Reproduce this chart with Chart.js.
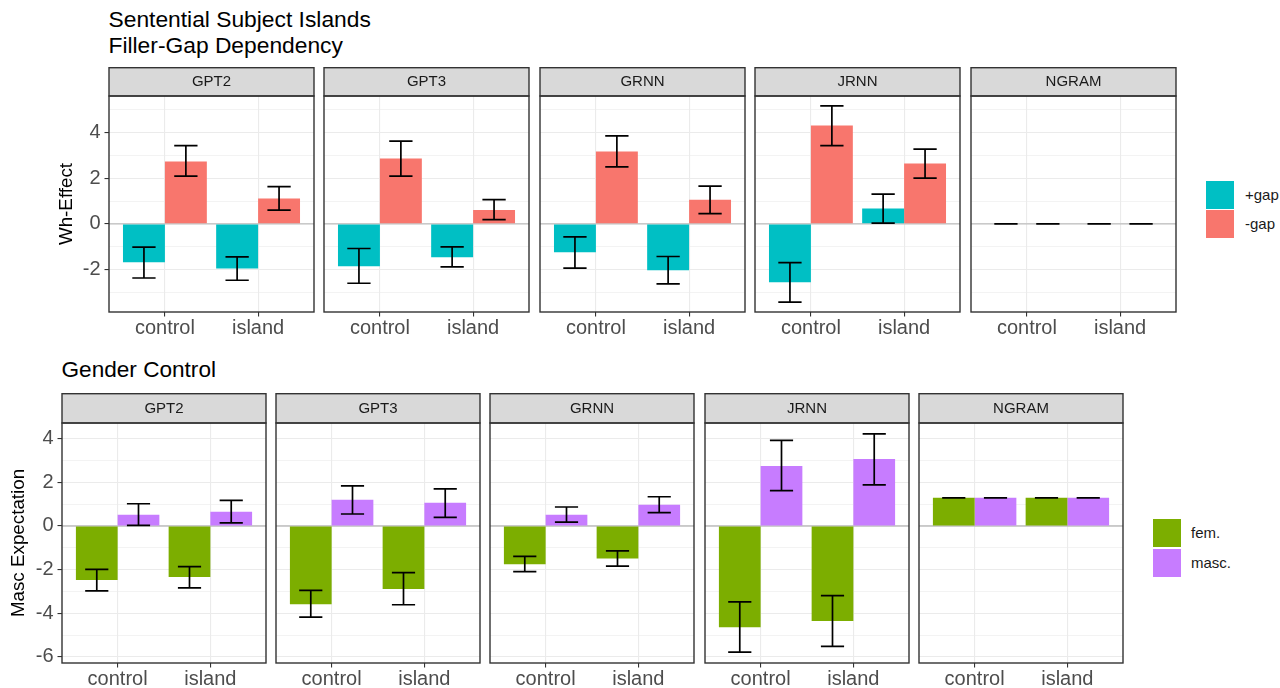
<!DOCTYPE html>
<html>
<head>
<meta charset="utf-8">
<script src="https://cdn.jsdelivr.net/npm/chart.js@4.4.1/dist/chart.umd.min.js"></script>
<style>
  html, body { margin: 0; padding: 0; background: #fff; }
  body { width: 1280px; height: 688px; position: relative; overflow: hidden;
         font-family: "Liberation Sans", Arial, Helvetica, sans-serif; }
  canvas { position: absolute; }
  .title { position: absolute; font-size: 22.8px; line-height: 26px; color: #000; white-space: nowrap; }
  .key { position: absolute; width: 28px; height: 28px; }
  .ktext { position: absolute; font-size: 15px; line-height: 28px; color: #1A1A1A; white-space: nowrap; }
</style>
</head>
<body>
<div class="title" style="left:108.5px; top:6.2px;">Sentential Subject Islands<br>Filler-Gap Dependency</div>
<div class="title" style="left:61.5px; top:356.6px; font-size:22.6px;">Gender Control</div>

<script>
// ---- data -------------------------------------------------------------
const models = ['GPT2', 'GPT3', 'GRNN', 'JRNN', 'NGRAM'];
const conditions = ['control', 'island'];

// Filler-gap dependency: Wh-effect per model, [control, island]
const gapSeries = ['+gap', '-gap'];
const whPlusGap    = [[-1.68, -1.96], [-1.86, -1.46], [-1.24, -2.03], [-2.56, 0.67], [0, 0]];
const whPlusGapLo  = [[-2.37, -2.47], [-2.60, -1.88], [-1.94, -2.63], [-3.43, 0.03], [0, 0]];
const whPlusGapHi  = [[-1.02, -1.45], [-1.08, -1.01], [-0.57, -1.43], [-1.70, 1.30], [0, 0]];
const whMinusGap   = [[2.73, 1.11], [2.86, 0.61], [3.17, 1.06], [4.31, 2.64], [0, 0]];
const whMinusGapLo = [[2.09, 0.60], [2.09, 0.19], [2.50, 0.45], [3.43, 2.00], [0, 0]];
const whMinusGapHi = [[3.43, 1.63], [3.62, 1.06], [3.85, 1.65], [5.17, 3.27], [0, 0]];
const whTickLabels = [-2, 0, 2, 4];

// Gender control: masculine expectation per model, [control, island]
const genderSeries = ['fem.', 'masc.'];
const mascFem      = [[-2.48, -2.34], [-3.59, -2.89], [-1.75, -1.49], [-4.64, -4.35], [1.29, 1.29]];
const mascFemLo    = [[-2.97, -2.84], [-4.18, -3.61], [-2.09, -1.84], [-5.78, -5.52], [1.29, 1.29]];
const mascFemHi    = [[-1.99, -1.86], [-2.95, -2.14], [-1.39, -1.14], [-3.48, -3.19], [1.29, 1.29]];
const mascMasc     = [[0.52, 0.65], [1.20, 1.06], [0.52, 0.97], [2.75, 3.07], [1.29, 1.29]];
const mascMascLo   = [[0.03, 0.14], [0.55, 0.39], [0.18, 0.61], [1.62, 1.88], [1.29, 1.29]];
const mascMascHi   = [[1.02, 1.17], [1.84, 1.70], [0.87, 1.34], [3.92, 4.22], [1.29, 1.29]];
const mascTickLabels = [-6, -4, -2, 0, 2, 4];

const gapColors = ['#00BFC4', '#F8766D'];
const genderColors = ['#7CAE00', '#C77CFF'];

// ---- layout ------------------------------------------------------------
const FONT = '"Liberation Sans", Arial, Helvetica, sans-serif';
Chart.defaults.font.family = FONT;

const rows = [
  {
    series: gapSeries, colors: gapColors,
    values: [whPlusGap, whMinusGap], lo: [whPlusGapLo, whMinusGapLo], hi: [whPlusGapHi, whMinusGapHi],
    yTitle: 'Wh-Effect', tickLabels: whTickLabels, yMin: -3.86, yMax: 5.6,
    lefts: [109, 324, 540, 755, 971], panelW: 205,
    stripTop: 67, stripH: 29, plotH: 216, xH: 32, yAxisW: 53,
    legend: { x: 1206, y: 181, step: 29, textX: 1245 }
  },
  {
    series: genderSeries, colors: genderColors,
    values: [mascFem, mascMasc], lo: [mascFemLo, mascMascLo], hi: [mascFemHi, mascMascHi],
    yTitle: 'Masc Expectation', tickLabels: mascTickLabels, yMin: -6.28, yMax: 4.72,
    lefts: [62, 276, 490, 705, 919], panelW: 204,
    stripTop: 393, stripH: 30, plotH: 240, xH: 25, yAxisW: 54,
    legend: { x: 1153, y: 519, step: 30, textX: 1191 }
  }
];

// Strip header, panel frame, zero reference line and error bars
const panelDecor = {
  id: 'panelDecor',
  beforeDatasetsDraw(chart) {
    const { ctx, chartArea: a, scales: { y } } = chart;
    const y0 = y.getPixelForValue(0);
    ctx.save();
    ctx.strokeStyle = '#BEBEBE';
    ctx.lineWidth = 1.4;
    ctx.beginPath();
    ctx.moveTo(a.left, y0);
    ctx.lineTo(a.right, y0);
    ctx.stroke();
    ctx.restore();
  },
  afterDatasetsDraw(chart, args, opts) {
    const { ctx, scales: { x, y } } = chart;
    const half = x.getPixelForValue(1 + opts.errWidth / 2) - x.getPixelForValue(1);
    ctx.save();
    ctx.strokeStyle = '#000';
    ctx.lineWidth = 1.7;
    ctx.lineCap = 'butt';
    chart.data.datasets.forEach((ds, d) => {
      const meta = chart.getDatasetMeta(d);
      meta.data.forEach((bar, i) => {
        const yl = y.getPixelForValue(ds.errLo[i]);
        const yh = y.getPixelForValue(ds.errHi[i]);
        ctx.beginPath();
        ctx.moveTo(bar.x, yl); ctx.lineTo(bar.x, yh);
        ctx.moveTo(bar.x - half, yl); ctx.lineTo(bar.x + half, yl);
        ctx.moveTo(bar.x - half, yh); ctx.lineTo(bar.x + half, yh);
        ctx.stroke();
      });
    });
    ctx.restore();
  },
  afterDraw(chart, args, opts) {
    const { ctx, chartArea: a } = chart;
    const lw = 1.4;
    ctx.save();
    ctx.lineWidth = lw;
    ctx.strokeStyle = '#333333';
    // strip
    ctx.fillStyle = '#D9D9D9';
    ctx.fillRect(a.left, lw / 2, a.right - a.left, a.top - lw / 2);
    ctx.strokeRect(a.left, lw / 2, a.right - a.left, a.top - lw / 2);
    ctx.fillStyle = '#1A1A1A';
    ctx.font = '15px ' + FONT;
    ctx.textAlign = 'center';
    ctx.textBaseline = 'middle';
    ctx.fillText(opts.label, (a.left + a.right) / 2, (a.top + lw / 2) / 2 + 0.5);
    // panel frame
    ctx.strokeRect(a.left, a.top, a.right - a.left, a.bottom - a.top);
    ctx.restore();
  }
};

// one tick (and grid line) at every whole number inside the axis range
const integerTicks = s => {
  const t = [];
  for (let v = Math.ceil(s.min); v <= Math.floor(s.max); v++) t.push({ value: v });
  s.ticks = t;
};

function makePanel(row, m) {
  const first = m === 0;
  const yW = first ? row.yAxisW : 0;
  const cw = 1 + yW + row.panelW + 1;
  const ch = row.stripH + row.plotH + row.xH;
  const canvas = document.createElement('canvas');
  canvas.width = cw;
  canvas.height = ch;
  canvas.style.left = (row.lefts[m] - yW - 1) + 'px';
  canvas.style.top = row.stripTop + 'px';
  canvas.style.width = cw + 'px';
  canvas.style.height = ch + 'px';
  document.body.appendChild(canvas);

  const datasets = row.series.map((name, s) => ({
    label: name,
    data: conditions.map((c, i) => ({ x: i + 1, y: row.values[s][m][i] })),
    errLo: row.lo[s][m],
    errHi: row.hi[s][m],
    backgroundColor: row.colors[s],
    borderWidth: 0,
    categoryPercentage: 0.9,
    barPercentage: 1
  }));

  new Chart(canvas, {
    type: 'bar',
    data: { datasets },
    options: {
      responsive: false,
      animation: false,
      events: [],
      layout: { padding: { top: row.stripH, left: 1, right: 1, bottom: 0 } },
      plugins: {
        legend: { display: false },
        tooltip: { enabled: false },
        panelDecor: { label: models[m], errWidth: 0.25 }
      },
      scales: {
        x: {
          type: 'linear', min: 0.4, max: 2.6, offset: false,
          afterBuildTicks: integerTicks,
          afterFit: s => { s.height = row.xH; },
          ticks: {
            autoSkip: false, maxRotation: 0, padding: 0,
            color: '#4D4D4D', font: { size: 20 },
            callback: v => conditions[v - 1]
          },
          grid: { offset: false, color: '#EBEBEB', lineWidth: 1.1,
                  drawTicks: true, tickLength: 4.5, tickColor: '#333333' },
          border: { display: false }
        },
        y: {
          min: row.yMin, max: row.yMax,
          afterBuildTicks: integerTicks,
          afterFit: s => { s.width = yW; },
          ticks: {
            autoSkip: false, display: first, padding: 4,
            color: '#4D4D4D', font: { size: 20 },
            callback: v => row.tickLabels.includes(v) ? String(v) : ''
          },
          grid: {
            color: '#EBEBEB',
            lineWidth: c => (c.tick && c.tick.value % 2 === 0) ? 1.1 : 0.6,
            drawTicks: first, tickLength: 4.5,
            tickColor: c => (c.tick && row.tickLabels.includes(c.tick.value)) ? '#333333' : 'rgba(0,0,0,0)'
          },
          border: { display: false },
          title: { display: first, text: row.yTitle, color: '#000', font: { size: 18.8 }, padding: 0 }
        }
      }
    },
    plugins: [panelDecor]
  });
}

function makeLegend(row) {
  row.series.forEach((name, s) => {
    const key = document.createElement('div');
    key.className = 'key';
    key.style.left = row.legend.x + 'px';
    key.style.top = (row.legend.y + s * row.legend.step) + 'px';
    key.style.background = row.colors[s];
    document.body.appendChild(key);
    const txt = document.createElement('div');
    txt.className = 'ktext';
    txt.style.left = row.legend.textX + 'px';
    txt.style.top = (row.legend.y + s * row.legend.step) + 'px';
    txt.textContent = name;
    document.body.appendChild(txt);
  });
}

rows.forEach(row => {
  models.forEach((_, m) => makePanel(row, m));
  makeLegend(row);
});
</script>
</body>
</html>
